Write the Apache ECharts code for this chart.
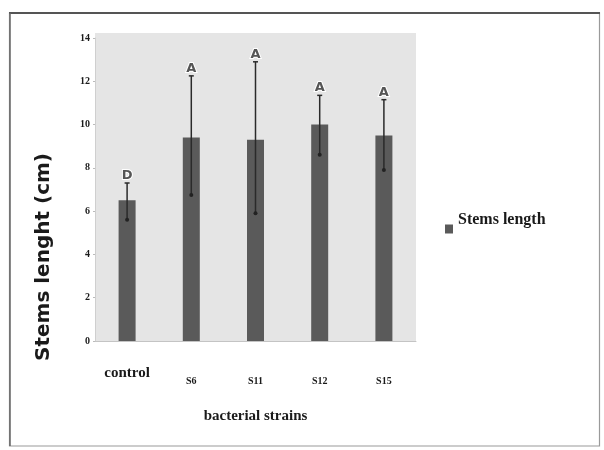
<!DOCTYPE html>
<html>
<head>
<meta charset="UTF-8">
<title>Stems length</title>
<script src="https://cdn.jsdelivr.net/npm/echarts@6.0.0/dist/echarts.min.js"></script>
<style>
  html, body { margin: 0; padding: 0; background: #fff; }
  #main { width: 604px; height: 450px; }
</style>
</head>
<body>
<div id="main"></div>
<script type="text/javascript">
// data
var categories = ['control', 'S6', 'S11', 'S12', 'S15'];
var means = [6.5, 9.4, 9.3, 10.0, 9.5];
var errHigh = [7.3, 12.25, 12.9, 11.35, 11.15];
var errLow = [5.6, 6.75, 5.9, 8.6, 7.9];
var letters = ['D', 'A', 'A', 'A', 'A'];
var yTicks = [0, 2, 4, 6, 8, 10, 12, 14];

var serif = '"Liberation Serif", "DejaVu Serif", serif';
var myChart = echarts.init(document.getElementById('main'));

// error bars + letters above them
function renderErr(params, api) {
    var i = params.dataIndex;
    var top = api.coord([api.value(0), api.value(1)]);
    var bot = api.coord([api.value(0), api.value(2)]);
    var st = { stroke: '#2a2a2a', lineWidth: 1.5 };
    return {
        type: 'group',
        children: [
            { type: 'line', shape: { x1: top[0], y1: top[1], x2: bot[0], y2: bot[1] }, style: st },
            { type: 'line', shape: { x1: top[0] - 2.5, y1: top[1], x2: top[0] + 2.5, y2: top[1] }, style: st },
            { type: 'circle', shape: { cx: bot[0], cy: bot[1], r: 2 }, style: { fill: '#222' } },
            {
                type: 'text', x: top[0], y: top[1] - 1,
                style: {
                    text: letters[i], align: 'center', verticalAlign: 'bottom',
                    font: 'bold 13px "DejaVu Sans", sans-serif',
                    fill: '#555', stroke: '#fff', lineWidth: 2
                }
            }
        ]
    };
}

var catData = categories.map(function (c, i) {
    if (i === 0) return { value: c, textStyle: { fontSize: 15, padding: [0, 0, 0, 0] } };
    return { value: c, textStyle: { fontSize: 10, padding: [10, 0, 0, 0] } };
});

var option = {
    animation: false,
    backgroundColor: '#fff',
    graphic: [
        // outer frame
        { type: 'rect', z: -10, shape: { x: 9.5, y: 13, width: 590, height: 433 },
          style: { fill: '#fff', stroke: '#9a9a9a', lineWidth: 1.2 } },
        { type: 'line', z: -9, shape: { x1: 9, y1: 13, x2: 600, y2: 13 },
          style: { stroke: '#555', lineWidth: 2 } },
        { type: 'line', z: -9, shape: { x1: 10, y1: 13, x2: 10, y2: 446 },
          style: { stroke: '#666', lineWidth: 1.5 } },
        // grey plot background
        { type: 'rect', z: -8, shape: { x: 95, y: 33, width: 321, height: 308 },
          style: { fill: '#e5e5e5' } },
        // y axis title
        { type: 'text', x: 44, y: 257, rotation: Math.PI / 2,
          style: { text: 'Stems lenght (cm)', align: 'center', verticalAlign: 'middle',
                   font: 'bold 20px "DejaVu Sans", sans-serif', fill: '#1a1a1a' } }
    ],
    legend: {
        data: ['Stems length'],
        left: 440,
        top: 207,
        icon: 'rect',
        itemWidth: 8,
        itemHeight: 9,
        itemGap: 6,
        formatter: '{a|{name}}',
        textStyle: {
            rich: {
                a: { fontFamily: serif, fontWeight: 'bold', fontSize: 16, color: '#1a1a1a', padding: [0, 0, 18, 0] }
            }
        }
    },
    grid: { left: 95, right: 188, top: 38, bottom: 109 },
    xAxis: {
        type: 'category',
        data: catData,
        axisLine: { lineStyle: { color: '#c4c4c4', width: 1 } },
        axisTick: { show: false },
        axisLabel: { margin: 25, fontFamily: serif, fontWeight: 'bold', color: '#1a1a1a' },
        name: 'bacterial strains',
        nameLocation: 'middle',
        nameGap: 68,
        nameTextStyle: { fontFamily: serif, fontWeight: 'bold', fontSize: 15, color: '#1a1a1a' }
    },
    yAxis: {
        type: 'value',
        min: yTicks[0],
        max: yTicks[yTicks.length - 1],
        interval: 2,
        splitLine: { show: false },
        axisLine: { show: true, lineStyle: { color: '#cfcfcf', width: 1 } },
        axisTick: { show: true, length: 2, lineStyle: { color: '#bbb' } },
        axisLabel: { margin: 5, fontFamily: serif, fontWeight: 'bold', fontSize: 10, color: '#1a1a1a' }
    },
    series: [
        {
            name: 'Stems length',
            type: 'bar',
            barWidth: 17,
            itemStyle: { color: '#5a5a5a' },
            data: means
        },
        {
            type: 'custom',
            renderItem: renderErr,
            z: 5,
            data: categories.map(function (c, i) { return [i, errHigh[i], errLow[i]]; })
        }
    ]
};

myChart.setOption(option);
</script>
</body>
</html>
